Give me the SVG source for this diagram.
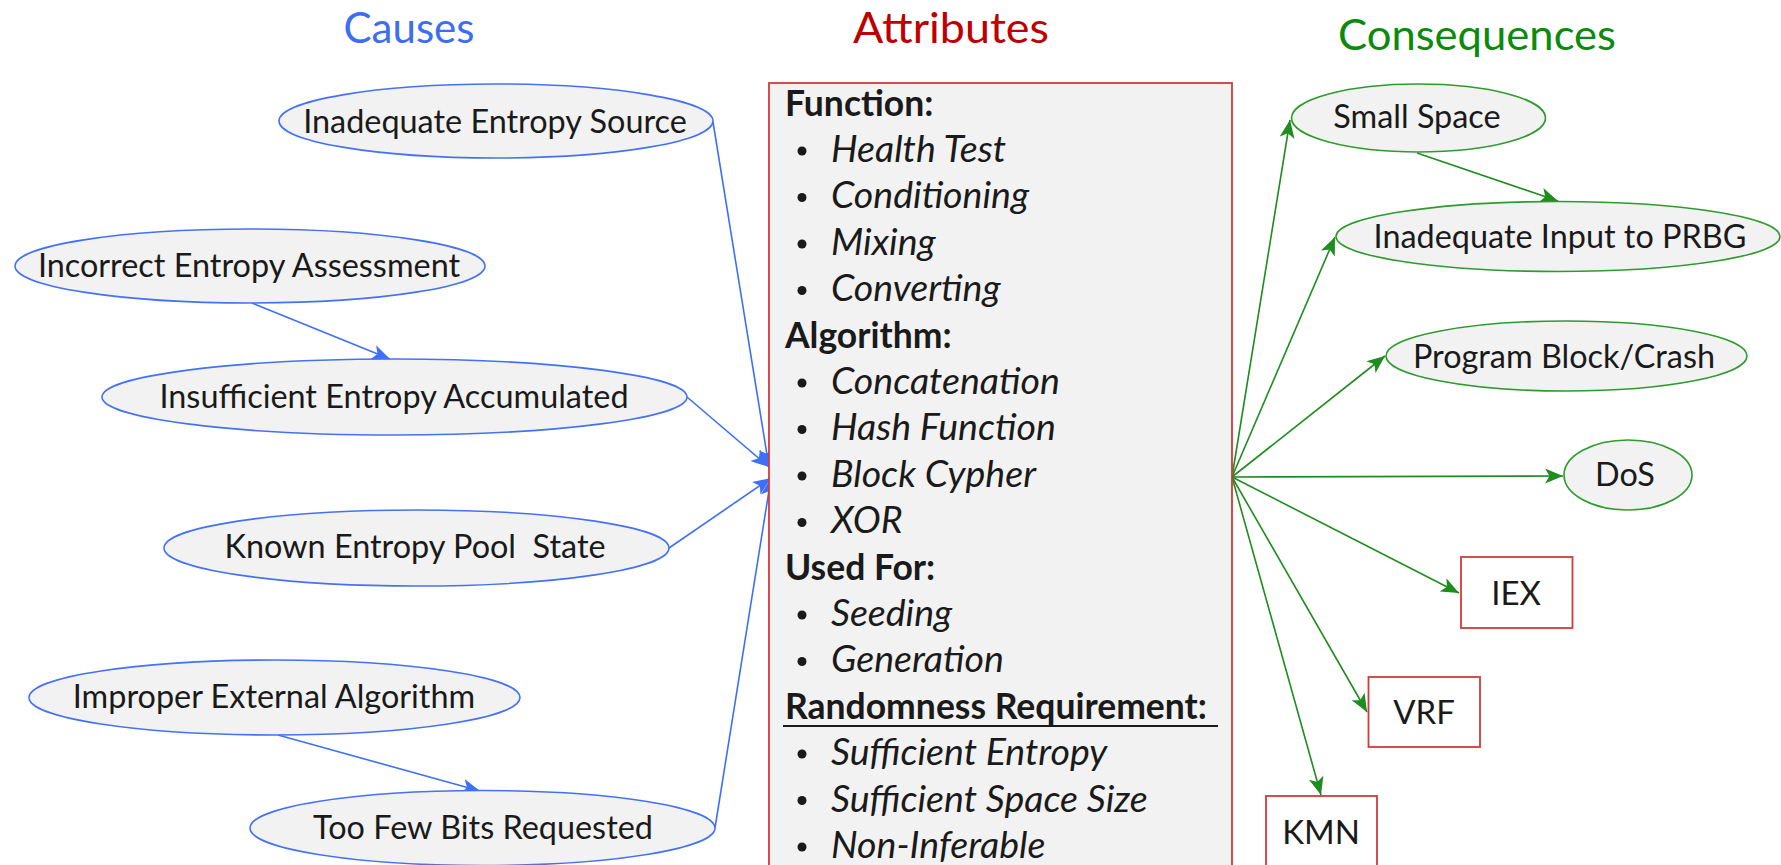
<svg xmlns="http://www.w3.org/2000/svg" width="1781" height="865" viewBox="0 0 1781 865">
<defs>
<style>
text{font-family:Lato,"Open Sans","Liberation Sans",sans-serif;fill:#1a1a1a}
.title{font-size:43px;text-anchor:middle}
.cause ellipse{fill:#f2f2f2;stroke:#4472f5;stroke-width:1.6}
.cons ellipse{fill:#f2f2f2;stroke:#2e9b2e;stroke-width:1.6}
.lbl{font-size:32.4px;text-anchor:middle}
.box rect{fill:#ffffff;stroke:#d33a3a;stroke-width:1.8}
.blbl{font-size:33px;text-anchor:middle}
.hd{font-size:35.5px;font-weight:bold}
.it{font-size:37.5px;font-style:italic}
.bl{fill:#1a1a1a}
.blue{stroke:#3f6ff7;stroke-width:1.6;fill:none;marker-end:url(#ab)}
.green{stroke:#1e8c1e;stroke-width:1.6;fill:none;marker-end:url(#ag)}
</style>
<marker id="ab" markerUnits="userSpaceOnUse" markerWidth="19" markerHeight="15" refX="18" refY="7.5" orient="auto">
<path d="M0,0 L18,7.5 L0,15 L4.5,7.5 z" fill="#3f6ff7"/>
</marker>
<marker id="ag" markerUnits="userSpaceOnUse" markerWidth="19" markerHeight="15" refX="18" refY="7.5" orient="auto">
<path d="M0,0 L18,7.5 L0,15 L4.5,7.5 z" fill="#1e8c1e"/>
</marker>
</defs>
<rect width="1781" height="865" fill="#ffffff"/>

<text class="title" x="409" y="43" textLength="131" lengthAdjust="spacingAndGlyphs" style="fill:#3d6ef2">Causes</text>
<text class="title" x="951" y="43" textLength="196" lengthAdjust="spacingAndGlyphs" style="fill:#c00000">Attributes</text>
<text class="title" x="1477" y="50" textLength="278" lengthAdjust="spacingAndGlyphs" style="fill:#0c8a0c">Consequences</text>

<g id="connectors">
<path class="blue" d="M713,122 L769,467"/>
<path class="blue" d="M252,303 L390,359"/>
<path class="blue" d="M687,397 L769,467"/>
<path class="blue" d="M669,548 L771,478"/>
<path class="blue" d="M278,735 L480,791"/>
<path class="blue" d="M715,828 L771,478"/>
<path class="green" d="M1417,153 L1558,201"/>
<path class="green" d="M1232,477 L1290,120"/>
<path class="green" d="M1232,477 L1335,237"/>
<path class="green" d="M1232,477 L1385,356"/>
<path class="green" d="M1232,477 L1563,476"/>
<path class="green" d="M1232,477 L1459,593"/>
<path class="green" d="M1232,477 L1367,712"/>
<path class="green" d="M1232,477 L1321,795"/>
</g>

<g id="cause-inadequate-entropy-source" class="cause">
<ellipse cx="496" cy="121" rx="217" ry="37"/>
<text class="lbl" x="495" y="133">Inadequate Entropy Source</text>
</g>
<g id="cause-incorrect-entropy-assessment" class="cause">
<ellipse cx="250" cy="266" rx="235" ry="37"/>
<text class="lbl" x="249" y="277">Incorrect Entropy Assessment</text>
</g>
<g id="cause-insufficient-entropy-accumulated" class="cause">
<ellipse cx="394.5" cy="397" rx="292.5" ry="38"/>
<text class="lbl" x="394" y="408">Insufficient Entropy Accumulated</text>
</g>
<g id="cause-known-entropy-pool-state" class="cause">
<ellipse cx="416.5" cy="548" rx="252.5" ry="38"/>
<text class="lbl" x="415" y="558" xml:space="preserve">Known Entropy Pool  State</text>
</g>
<g id="cause-improper-external-algorithm" class="cause">
<ellipse cx="274.5" cy="697.5" rx="245.5" ry="37.5"/>
<text class="lbl" x="274" y="708">Improper External Algorithm</text>
</g>
<g id="cause-too-few-bits-requested" class="cause">
<ellipse cx="482.5" cy="828" rx="232.5" ry="37.5"/>
<text class="lbl" x="483" y="839">Too Few Bits Requested</text>
</g>

<g id="attributes">
<rect x="769" y="83" width="463" height="800" fill="#f2f2f2" stroke="#d33a3a" stroke-width="1.8"/>
<text class="hd" x="785" y="115.5">Function:</text>
<circle class="bl" cx="802" cy="151" r="4.5"/><text class="it" x="831" y="162">Health Test</text>
<circle class="bl" cx="802" cy="197.5" r="4.5"/><text class="it" x="831" y="208.3">Conditioning</text>
<circle class="bl" cx="802" cy="244" r="4.5"/><text class="it" x="831" y="254.7">Mixing</text>
<circle class="bl" cx="802" cy="290.5" r="4.5"/><text class="it" x="831" y="301.1">Converting</text>
<text class="hd" x="785" y="347.5">Algorithm:</text>
<circle class="bl" cx="802" cy="383" r="4.5"/><text class="it" x="831" y="393.9">Concatenation</text>
<circle class="bl" cx="802" cy="429.5" r="4.5"/><text class="it" x="831" y="440.3">Hash Function</text>
<circle class="bl" cx="802" cy="476" r="4.5"/><text class="it" x="831" y="486.7">Block Cypher</text>
<circle class="bl" cx="802" cy="522.5" r="4.5"/><text class="it" x="831" y="533.1">XOR</text>
<text class="hd" x="785" y="579.5">Used For:</text>
<circle class="bl" cx="802" cy="615" r="4.5"/><text class="it" x="831" y="625.9">Seeding</text>
<circle class="bl" cx="802" cy="661.5" r="4.5"/><text class="it" x="831" y="672.3">Generation</text>
<text class="hd" x="785" y="718.7">Randomness Requirement:</text>
<line x1="783" y1="726" x2="1218" y2="726" stroke="#1a1a1a" stroke-width="2.2"/>
<circle class="bl" cx="802" cy="754" r="4.5"/><text class="it" x="831" y="765.1">Sufficient Entropy</text>
<circle class="bl" cx="802" cy="800.5" r="4.5"/><text class="it" x="831" y="811.5">Sufficient Space Size</text>
<circle class="bl" cx="802" cy="847" r="4.5"/><text class="it" x="831" y="857.9">Non-Inferable</text>
</g>

<g id="cons-small-space" class="cons">
<ellipse cx="1418.5" cy="118" rx="127" ry="34"/>
<text class="lbl" x="1417" y="128">Small Space</text>
</g>
<g id="cons-inadequate-input-prbg" class="cons">
<ellipse cx="1558" cy="236.5" rx="222" ry="35"/>
<text class="lbl" x="1560" y="248">Inadequate Input to PRBG</text>
</g>
<g id="cons-program-block-crash" class="cons">
<ellipse cx="1566.5" cy="356" rx="180.5" ry="35"/>
<text class="lbl" x="1564" y="368">Program Block/Crash</text>
</g>
<g id="cons-dos" class="cons">
<ellipse cx="1628" cy="475" rx="64" ry="35"/>
<text class="lbl" x="1625" y="486">DoS</text>
</g>
<g id="cons-iex" class="box">
<rect x="1461" y="557" width="111.5" height="71"/>
<text class="blbl" x="1516" y="605">IEX</text>
</g>
<g id="cons-vrf" class="box">
<rect x="1368.5" y="677" width="111.5" height="70"/>
<text class="blbl" x="1424" y="724">VRF</text>
</g>
<g id="cons-kmn" class="box">
<rect x="1266" y="796" width="111" height="80"/>
<text class="blbl" x="1321" y="844">KMN</text>
</g>
</svg>
